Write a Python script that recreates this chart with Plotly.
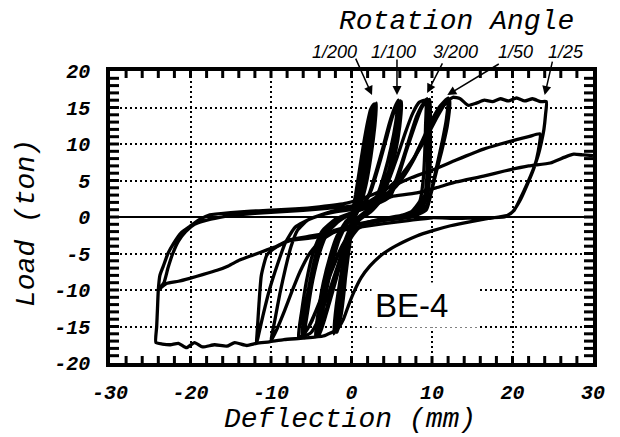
import plotly.graph_objects as go

# ---------------- data (deflection mm, load ton) ----------------
loop_1_200 = [
    (0.0, 0.0), (0.5, 3.0), (1.0, 6.5), (1.5, 10.0), (2.0, 13.0), (2.4, 14.8), (2.8, 15.5),
    (2.6, 12.5), (2.0, 8.5), (1.3, 4.5), (0.6, 1.5), (0.0, -0.2),
    (-0.3, -3.0), (-0.6, -6.5), (-0.9, -10.0), (-1.3, -13.5), (-1.8, -15.8),
    (-1.4, -12.5), (-0.9, -8.5), (-0.4, -4.5), (0.1, -1.5), (0.5, 0.5),
    (0.9, 3.5), (1.4, 7.5), (1.9, 11.0), (2.4, 14.0), (2.9, 15.3),
    (2.7, 12.0), (2.2, 7.8), (1.6, 4.0), (0.9, 1.2), (0.2, -0.4),
    (-0.3, -3.5), (-0.8, -7.5), (-1.2, -11.0), (-1.6, -14.2), (-2.1, -15.9),
    (-1.7, -12.0), (-1.1, -7.5), (-0.5, -3.5), (0.1, -1.0), (0.6, 0.8),
    (1.0, 3.8), (1.6, 8.0), (2.1, 11.5), (2.6, 14.4), (3.1, 15.6),
    (2.9, 12.5), (2.4, 8.2), (1.8, 4.4), (1.1, 1.6), (0.4, -0.2),
    (-0.1, -2.8), (-0.6, -7.0), (-1.0, -10.5), (-1.5, -14.0), (-2.2, -16.0),
    (-1.9, -12.2), (-1.3, -7.8), (-0.7, -3.8), (-0.1, -1.2), (0.5, 0.8),
]

loop_1_100 = [
    (0.5, 0.8), (1.4, 1.8), (2.2, 3.2), (3.0, 6.0), (3.9, 9.5), (4.7, 12.8), (5.3, 14.8), (5.8, 16.0),
    (5.5, 13.0), (4.9, 9.5), (4.1, 6.0), (3.2, 3.0), (2.2, 1.2), (1.0, 0.1),
    (0.0, -1.2), (-0.9, -3.5), (-1.7, -6.8), (-2.5, -10.3), (-3.2, -13.5), (-4.0, -16.2),
    (-3.6, -13.0), (-3.0, -9.5), (-2.3, -6.0), (-1.5, -3.0), (-0.5, -0.9), (0.6, 0.6),
    (1.6, 1.8), (2.5, 3.8), (3.3, 6.8), (4.2, 10.3), (5.0, 13.5), (5.6, 15.2), (6.1, 15.9),
    (5.8, 12.8), (5.2, 9.0), (4.4, 5.5), (3.4, 2.6), (2.2, 0.9), (0.8, -0.3),
    (-0.2, -1.8), (-1.1, -4.5), (-1.9, -7.8), (-2.8, -11.3), (-3.5, -14.2), (-4.3, -16.3),
    (-3.9, -13.0), (-3.3, -9.5), (-2.5, -5.8), (-1.6, -2.8), (-0.5, -0.6), (0.8, 0.9),
    (1.8, 2.2), (2.7, 4.5), (3.6, 7.8), (4.4, 11.0), (5.1, 13.8), (5.7, 15.4), (6.2, 15.8),
    (6.0, 12.5), (5.4, 8.5), (4.6, 5.0), (3.6, 2.2), (2.4, 0.7), (1.0, -0.4),
    (0.0, -2.0), (-1.0, -5.0), (-1.9, -8.5), (-2.8, -12.0), (-3.6, -14.8), (-4.5, -16.4),
    (-4.1, -12.8), (-3.5, -9.0), (-2.7, -5.5), (-1.8, -2.6), (-0.6, -0.5), (0.8, 0.9),
]

loop_3_200 = [
    (0.8, 0.9), (2.2, 1.3), (3.6, 2.0), (4.8, 2.8), (5.8, 5.5), (6.8, 9.0), (7.8, 12.3), (8.6, 14.7), (9.4, 16.2),
    (9.5, 13.0), (9.5, 9.5), (9.4, 6.0), (9.1, 3.0), (8.3, 1.2), (6.5, 0.3), (4.0, -0.2), (1.8, -0.8),
    (0.3, -1.8), (-1.0, -3.6), (-2.2, -6.5), (-3.3, -9.8), (-4.4, -12.8), (-5.3, -15.0), (-6.2, -16.5),
    (-5.8, -13.0), (-5.2, -9.0), (-4.5, -5.5), (-3.6, -2.6), (-2.2, -0.8), (-0.5, 0.3), (1.2, 1.0),
    (2.6, 1.6), (4.0, 2.5), (5.2, 4.2), (6.2, 7.3), (7.2, 10.8), (8.1, 13.8), (8.9, 15.5), (9.7, 16.1),
    (9.8, 12.8), (9.8, 9.0), (9.7, 5.5), (9.4, 2.6), (8.5, 0.9), (6.8, 0.1), (4.2, -0.4), (1.8, -1.0),
    (0.0, -2.2), (-1.4, -4.6), (-2.6, -7.8), (-3.8, -11.2), (-4.9, -14.2), (-5.9, -16.0), (-6.6, -16.6),
    (-6.2, -13.0), (-5.6, -8.8), (-4.8, -5.0), (-3.7, -2.0), (-2.0, -0.3), (0.5, 0.8),
    (2.0, 1.5), (3.4, 2.6), (4.6, 5.0), (5.7, 8.3), (6.7, 11.6), (7.6, 14.2), (8.4, 15.7), (9.2, 16.0),
    (9.2, 12.5), (9.1, 8.8), (8.9, 5.0), (8.5, 2.2), (7.4, 0.7), (5.2, -0.1), (2.6, -0.7),
    (0.8, -1.6), (-0.6, -3.8), (-1.8, -7.0), (-2.9, -10.6), (-4.0, -13.8), (-5.0, -15.8), (-5.8, -16.3),
    (-5.4, -12.6), (-4.8, -8.6), (-4.0, -5.0), (-3.0, -2.2), (-1.6, -0.6), (0.2, 0.6),
]

loop_1_50 = [
    (0.5, 0.8), (2.5, 1.6), (4.5, 3.0), (6.0, 4.8), (7.5, 7.5), (8.8, 10.5), (10.0, 13.3), (11.0, 15.2), (12.0, 16.3),
    (11.8, 13.5), (11.3, 10.5), (10.6, 7.0), (10.0, 4.0), (9.3, 1.5), (8.0, 0.4), (5.5, -0.2), (2.5, -0.6), (0.0, -1.2),
    (-2.0, -2.0), (-3.8, -3.2), (-5.2, -5.0), (-6.4, -7.5), (-7.4, -10.2), (-8.3, -12.8), (-9.2, -15.2), (-10.0, -17.0),
    (-9.5, -14.0), (-8.9, -10.5), (-8.2, -7.0), (-7.5, -4.0), (-6.7, -1.8), (-5.4, -0.4), (-3.5, 0.4), (-1.5, 1.0), (0.5, 1.3),
    (2.5, 2.0), (4.5, 3.3), (6.3, 5.3), (7.8, 8.0), (9.0, 10.8), (10.1, 13.2), (11.2, 15.0), (12.2, 16.0),
    (11.9, 12.5), (11.2, 9.0), (10.5, 6.0), (9.9, 3.3), (9.3, 1.0), (7.5, 0.0), (4.5, -0.4), (1.0, -0.9),
    (-2.0, -1.8), (-4.5, -2.8), (-7.6, -3.2), (-9.3, -4.1), (-10.5, -5.2), (-11.2, -8.0), (-11.5, -12.0),
    (-11.7, -15.5), (-11.8, -17.3),
    (-11.0, -13.5), (-10.2, -10.0), (-9.2, -6.5), (-8.2, -3.5), (-7.0, -1.4), (-5.0, -0.2), (-2.5, 0.6), (0.0, 1.0),
]

loop_1_25 = [
    (0.0, 1.0), (2.0, 2.0), (4.0, 3.5), (6.0, 5.5), (8.0, 8.5), (9.6, 11.5), (10.8, 14.0), (11.8, 15.8), (12.6, 16.4),
    (13.5, 16.2), (14.5, 15.3), (15.5, 15.6), (16.5, 16.0), (17.5, 15.8), (18.5, 16.2), (19.5, 15.9),
    (20.5, 16.3), (21.5, 15.9), (22.5, 16.2), (23.5, 15.8), (24.2, 15.8),
    (24.1, 14.0), (23.9, 12.0), (23.6, 10.3), (23.2, 8.5), (22.6, 6.6), (21.8, 4.5), (21.0, 2.6), (20.2, 0.9), (19.3, 0.2),
    (17.0, -0.2), (15.0, -0.6), (12.3, -1.2), (10.0, -1.9), (8.1, -2.6), (6.5, -3.4), (4.8, -4.4), (3.5, -5.4),
    (2.3, -6.7), (1.2, -8.3), (0.25, -10.4), (-0.4, -12.2), (-1.0, -14.0), (-1.8, -15.4), (-3.5, -16.3),
    (-6.0, -16.6), (-8.4, -16.8), (-10.2, -17.1), (-11.8, -17.3),
    (-13.0, -17.6), (-14.5, -17.2), (-15.5, -17.7), (-17.0, -17.5), (-18.5, -17.8), (-19.5, -17.2),
    (-20.5, -17.9), (-21.5, -17.3), (-22.5, -17.5), (-23.5, -17.4), (-24.3, -17.2),
    (-24.2, -15.0), (-24.1, -12.5), (-24.0, -10.0), (-23.8, -8.0), (-23.4, -6.8), (-22.8, -5.0), (-22.1, -3.6),
    (-21.2, -2.2), (-20.1, -1.3), (-18.8, -0.3), (-17.6, 0.3),
    (-15.0, 0.6), (-12.5, 0.8), (-10.5, 0.9), (-7.0, 1.1), (-4.0, 1.4), (-0.6, 1.9), (2.0, 2.8), (5.0, 4.2),
    (7.5, 5.4), (10.2, 6.5), (13.0, 7.8), (16.4, 9.3), (18.5, 10.0), (20.5, 10.6), (22.0, 11.0), (23.4, 11.4),
    (23.2, 9.0), (22.7, 6.8), (21.9, 4.6), (21.0, 2.4), (20.0, 0.7), (19.0, 0.0),
    (16.0, -0.1), (13.0, -0.2), (10.0, -0.1), (7.0, -0.5), (4.0, -0.9), (1.0, -1.4), (-2.0, -2.0), (-5.0, -2.6),
    (-7.6, -3.1), (-9.3, -4.0), (-10.5, -4.5), (-12.2, -5.2), (-13.9, -5.9), (-15.3, -6.7), (-16.7, -7.3),
    (-18.5, -7.9), (-20.1, -8.4), (-21.5, -8.8), (-23.0, -9.1), (-24.0, -10.0),
    (-23.3, -9.0), (-22.8, -7.0), (-22.2, -5.0), (-21.5, -3.3), (-20.6, -2.0), (-19.5, -1.0), (-17.5, -0.3), (-15.0, 0.2),
    (-12.0, 0.5), (-9.0, 0.7), (-6.0, 0.9), (-3.0, 1.2), (0.0, 1.5), (2.5, 2.2), (5.0, 2.8), (8.1, 3.3),
    (10.5, 4.0), (13.0, 4.8), (16.4, 5.6), (19.0, 6.3), (22.0, 7.0), (24.7, 7.4), (26.5, 8.2), (27.6, 8.6),
    (28.8, 8.5), (30.0, 8.4),
]

loops = [loop_1_200, loop_1_100, loop_3_200, loop_1_50, loop_1_25]

# rotation angle labels and the curve peaks they point at (deflection, load)
angle_labels = ["1/200", "1/100", "3/200", "1/50", "1/25"]
angle_label_x = [0.4638, 0.587, 0.7143, 0.8395, 0.9451]   # paper x of label centres
arrow_heads = [(2.55, 16.7), (5.65, 16.7), (9.4, 17.0), (11.9, 16.7), (24.0, 16.7)]
arrow_tail_offsets = [(-17, -38), (0, -37), (16, -31), (53, -32), (8, -35)]  # pixels

x_range = [-30, 30]
y_range = [-20, 20]
x_ticks = [-30, -20, -10, 0, 10, 20, 30]
y_ticks = [-20, -15, -10, -5, 0, 5, 10, 15, 20]
x_small_ticks = [v for v in range(-28, 30, 2)]
y_small_ticks = [v for v in range(-19, 20)]

# plot-area size in pixels (used to turn tick lengths into paper fractions)
PLOT_W, PLOT_H = 483, 292
X_TICK_LEN = 7   # ticks on top / bottom edges
Y_TICK_LEN = 9   # ticks on left / right edges

# ---------------- figure ----------------
fig = go.Figure()
for lp in loops:
    xs = [p[0] for p in lp]
    ys = [p[1] for p in lp]
    fig.add_trace(go.Scatter(x=xs, y=ys, mode="lines",
                             line=dict(color="black", width=3.3, shape="spline", smoothing=0.5),
                             showlegend=False, hoverinfo="skip"))

tick_font = dict(family="Liberation Mono", size=20, color="black", style="italic", weight="bold")
title_font = dict(family="Liberation Mono", size=28, color="black", style="italic")

common = dict(
    showline=True, linecolor="black", linewidth=3.5, mirror=True,
    ticks="", showgrid=True, gridcolor="black", gridwidth=2, griddash="2px,3px",
    tickfont=tick_font, tickmode="array", layer="above traces",
)

fig.update_layout(
    xaxis=dict(range=x_range, tickvals=x_ticks, ticktext=[str(v) for v in x_ticks],
               zeroline=False, ticklabelstandoff=8, **common),
    yaxis=dict(range=y_range, tickvals=y_ticks, ticktext=[str(v) for v in y_ticks],
               zeroline=True, zerolinecolor="black", zerolinewidth=2, ticklabelstandoff=12,
               **common),
)

# inside tick marks on all four sides of the frame
fy = X_TICK_LEN / PLOT_H
fx = Y_TICK_LEN / PLOT_W
shapes = []
tick_line = dict(color="black", width=3)
for v in x_small_ticks:
    shapes.append(dict(type="line", xref="x", yref="paper", x0=v, x1=v, y0=0, y1=fy,
                       line=tick_line, layer="above"))
    shapes.append(dict(type="line", xref="x", yref="paper", x0=v, x1=v, y0=1, y1=1 - fy,
                       line=tick_line, layer="above"))
for v in y_small_ticks:
    shapes.append(dict(type="line", xref="paper", yref="y", x0=0, x1=fx, y0=v, y1=v,
                       line=tick_line, layer="above"))
    shapes.append(dict(type="line", xref="paper", yref="y", x0=1, x1=1 - fx, y0=v, y1=v,
                       line=tick_line, layer="above"))

annotations = []
annotations.append(dict(text="Load (ton)", xref="paper", yref="paper", x=-0.1718, y=0.4795,
                        textangle=-90, showarrow=False, font=title_font,
                        xanchor="center", yanchor="middle"))
annotations.append(dict(text="Deflection (mm)", xref="paper", yref="paper", x=0.4969, y=-0.192,
                        showarrow=False, font=title_font, xanchor="center", yanchor="middle"))
annotations.append(dict(text="Rotation Angle", xref="paper", yref="paper", x=0.7174, y=1.168,
                        showarrow=False, font=title_font, xanchor="center", yanchor="middle"))
for lab, px in zip(angle_labels, angle_label_x):
    annotations.append(dict(text=lab, xref="paper", yref="paper", x=px, y=1.065, showarrow=False,
                            font=dict(family="Liberation Sans", size=18, color="black", style="italic"),
                            xanchor="center", yanchor="middle"))
for (hx, hy), (ox, oy) in zip(arrow_heads, arrow_tail_offsets):
    annotations.append(dict(text="", x=hx, y=hy, xref="x", yref="y", ax=ox, ay=oy,
                            showarrow=True, arrowhead=2, arrowsize=1.2, arrowwidth=1.5,
                            arrowcolor="black"))
annotations.append(dict(text="BE-4", x=9.1, y=-12.0, xref="x", yref="y", showarrow=False,
                        font=dict(family="Liberation Sans", size=33, color="black"),
                        bgcolor="white", width=100, height=38, borderpad=3, align="left",
                        xanchor="center", yanchor="middle"))

fig.update_layout(
    width=620, height=437,
    margin=dict(l=110, r=27, t=71, b=74, autoexpand=False),
    paper_bgcolor="white", plot_bgcolor="white",
    annotations=annotations, shapes=shapes,
    showlegend=False,
)

fig.write_html("out.html")
